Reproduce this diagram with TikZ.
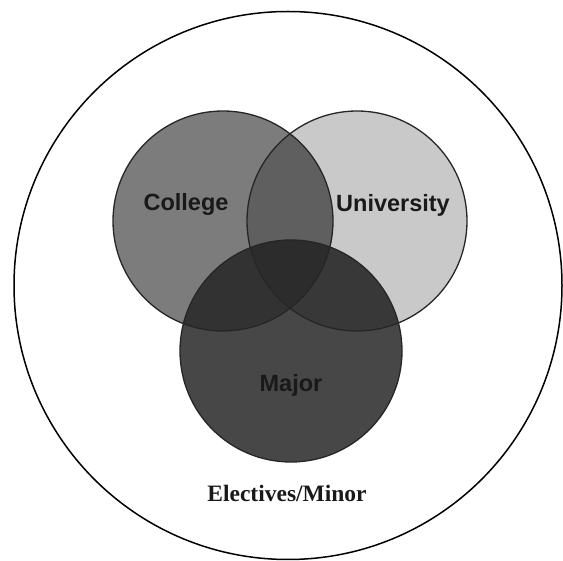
\documentclass[tikz,border=0pt]{standalone}
\usepackage{fontspec}
\newfontfamily\labfont{Liberation Sans}
\newfontfamily\serfont{Liberation Serif}
\definecolor{colC}{HTML}{7C7C7C}
\definecolor{colU}{HTML}{C9C9C9}
\definecolor{colM}{HTML}{474747}
\definecolor{colCU}{HTML}{5F5F5F}
\definecolor{colCM}{HTML}{323232}
\definecolor{colUM}{HTML}{383838}
\definecolor{colCUM}{HTML}{2C2C2C}
\tikzset{
  ring/.style={draw=black!85, line width=1.3pt},
  outer/.style={draw=black, line width=1.5pt},
  lab/.style={font=\labfont\bfseries\fontsize{23.5}{27}\selectfont, text=black!90},
  sub/.style={font=\serfont\bfseries\fontsize{23.5}{27}\selectfont, text=black!90}
}
\begin{document}
\begin{tikzpicture}[x=1pt,y=-1pt]
\useasboundingbox (0,0) rectangle (563,561);
\coordinate (oc) at (288,285.5);
\coordinate (cc) at (223,221);
\coordinate (uc) at (357,221);
\coordinate (mc) at (291,351);
\def\rC{110}\def\rU{110}\def\rM{111}
% single fills
\fill[colC] (cc) circle[radius=\rC];
\fill[colU] (uc) circle[radius=\rU];
\fill[colM] (mc) circle[radius=\rM];
% pairwise
\begin{scope}
  \clip (cc) circle[radius=\rC];
  \fill[colCU] (uc) circle[radius=\rU];
  \fill[colCM] (mc) circle[radius=\rM];
\end{scope}
\begin{scope}
  \clip (uc) circle[radius=\rU];
  \fill[colUM] (mc) circle[radius=\rM];
\end{scope}
\begin{scope}
  \clip (cc) circle[radius=\rC];
  \clip (uc) circle[radius=\rU];
  \fill[colCUM] (mc) circle[radius=\rM];
\end{scope}
% outlines
\draw[ring] (cc) circle[radius=\rC];
\draw[ring] (uc) circle[radius=\rU];
\draw[ring] (mc) circle[radius=\rM];
\draw[outer] (oc) circle[radius=274];
% labels
\node[lab] (college) at (186,204) {College};
\node[lab] (university) at (393,205) {University};
\node[lab] (major) at (291,385) {Major};
\node[sub] (electives) at (287,493) {Electives/Minor};
\end{tikzpicture}
\end{document}
